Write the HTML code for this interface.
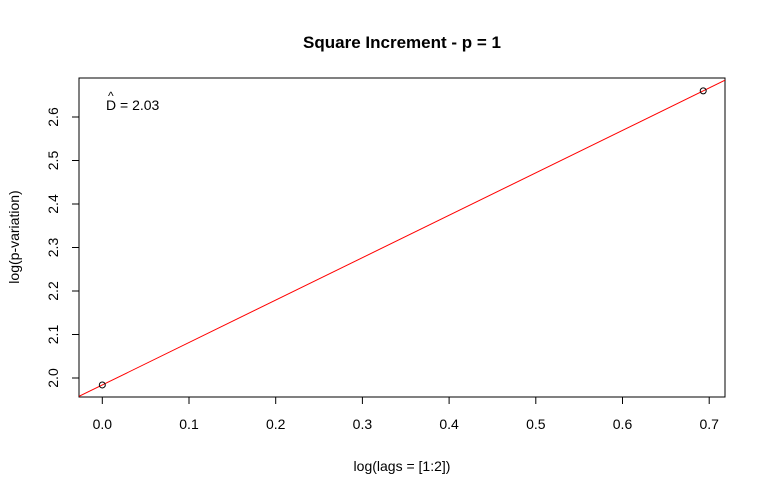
<!DOCTYPE html>
<html><head><meta charset="utf-8"><style>
body{margin:0;background:#fff}
svg text{font-family:"Liberation Sans",Arial,sans-serif}
</style></head><body>
<svg width="766" height="495" xmlns="http://www.w3.org/2000/svg" id="c">
<defs><clipPath id="clip"><rect x="79" y="78" width="646" height="319"/></clipPath></defs>
<text x="402" y="48" text-anchor="middle" font-size="17" font-weight="bold">Square Increment - p = 1</text>
<text x="402" y="471" text-anchor="middle" font-size="14">log(lags = [1:2])</text>
<text transform="translate(19,237) rotate(-90)" text-anchor="middle" font-size="14">log(p-variation)</text>
<rect x="79" y="78" width="646" height="319" fill="none" stroke="#000" stroke-width="1"/>
<g id="xt"></g><g id="yt"></g>
<g id="marks" clip-path="url(#clip)"></g>
<text x="106" y="110" font-size="14">D<tspan x="108" y="100" font-size="12">^</tspan><tspan x="120" y="110">= 2.03</tspan></text>
</svg>
<script>
const xs=[0,0.6931];
const ys=[1.984,2.660];
const xTicks=["0.0","0.1","0.2","0.3","0.4","0.5","0.6","0.7"];
const yTicks=["2.0","2.1","2.2","2.3","2.4","2.5","2.6"];
const NS="http://www.w3.org/2000/svg";
const X=v=>102.3+v*867;
const Y=v=>378-(v-2.0)*435;
function mk(t,a,p){const e=document.createElementNS(NS,t);for(const k in a)e.setAttribute(k,a[k]);p.appendChild(e);return e;}
const xt=document.getElementById('xt'),yt=document.getElementById('yt'),m=document.getElementById('marks');
xTicks.forEach(s=>{const x=X(parseFloat(s));
const l=mk('line',{x1:x,x2:x,y1:397,y2:404,stroke:'#000'},xt);

const t=mk('text',{x:x,y:429,'text-anchor':'middle','font-size':14},xt);t.textContent=s;
});
yTicks.forEach(s=>{const y=Y(parseFloat(s));
const l=mk('line',{x1:72,x2:79,y1:y,y2:y,stroke:'#000'},yt);

const t=mk('text',{transform:`translate(58,${y}) rotate(-90)`,'text-anchor':'middle','font-size':14},yt);t.textContent=s;
});
const slope=(ys[1]-ys[0])/(xs[1]-xs[0]),b=ys[0]-slope*xs[0];
const fl=mk('line',{x1:X(-0.1),y1:Y(b-0.1*slope),x2:X(0.8),y2:Y(b+0.8*slope),stroke:'#f00','stroke-width':1},m);

xs.forEach((v,i)=>{const c=mk('circle',{cx:X(v),cy:Y(ys[i]),r:3,fill:'none',stroke:'#000'},m);
});
</script>
</body></html>
